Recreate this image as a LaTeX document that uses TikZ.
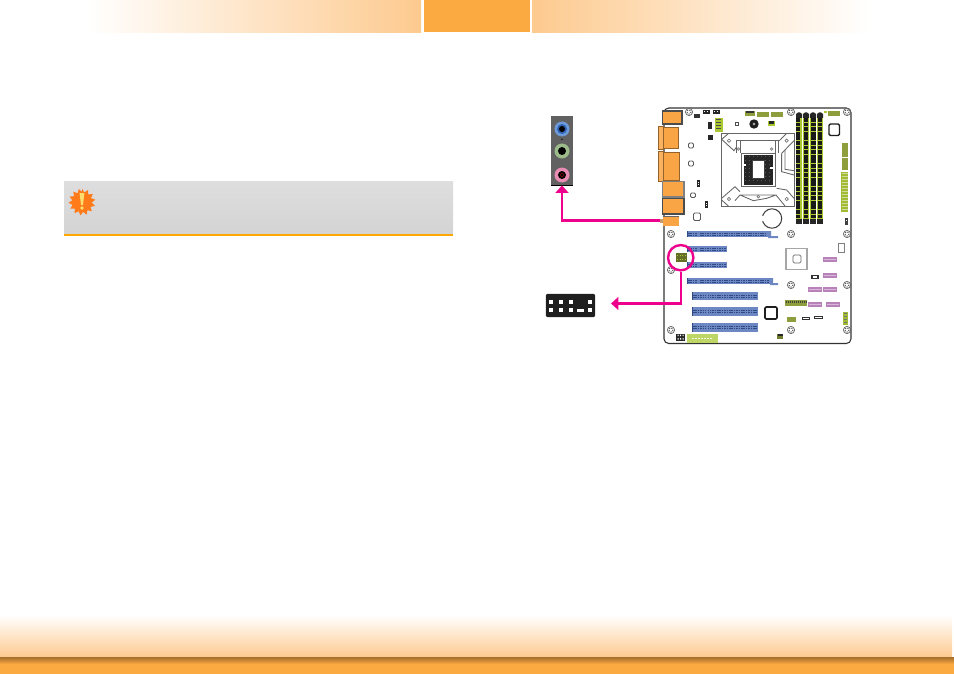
\documentclass[tikz,border=0pt]{standalone}
\usetikzlibrary{arrows.meta,calc}
\definecolor{orA}{HTML}{FBA941}
\definecolor{orB}{HTML}{FDCA8F}
\definecolor{port}{HTML}{F9A445}
\definecolor{lime}{HTML}{A9C832}
\definecolor{olive}{HTML}{8F9E3C}
\definecolor{slotb}{HTML}{6D87C2}
\definecolor{slotd}{HTML}{2F4A86}
\definecolor{sata}{HTML}{A862A8}
\definecolor{mag}{HTML}{EC008C}
\definecolor{jackb}{HTML}{6E9BD8}
\definecolor{jackbi}{HTML}{2E62B4}
\definecolor{jackg}{HTML}{9DBB8A}
\definecolor{jackp}{HTML}{E88CB4}
\tikzset{
 portbox/.style={draw=black!70,line width=.8pt,fill=port},
 portside/.style={draw=port!60!black,line width=.5pt,fill=port!85!white},
 sockline/.style={draw=black!60,line width=.65pt},
 pcb/.style={draw=black!80,line width=.8pt},
 link/.style={draw=mag,line width=1.7pt},
 tip/.style={-{Triangle[length=5.5pt,width=9.5pt]}},
 chip/.style={draw=black!65,line width=.7pt,rounded corners=1pt,fill=white},
}
\newcommand{\screw}[2]{%
 \draw[black!60,line width=.55pt] (#1,#2) circle (3.6);
 \draw[black!65,line width=.8pt,densely dotted] (#1,#2) circle (2);}
\newcommand{\pcislot}[5]{% x1 x2 y1 y2 notch
 \fill[slotb] (#1,#3) rectangle (#2,#4);
 \draw[slotd,line width=.7pt,dash pattern=on 1.2pt off .6pt] (#1+1,{(#3+#4)/2-1}) -- (#2-1,{(#3+#4)/2-1});
 \draw[slotd,line width=.7pt,dash pattern=on 1.2pt off .6pt] (#1+1,{(#3+#4)/2+1}) -- (#2-1,{(#3+#4)/2+1});
 \fill[slotb] (#5,#3) rectangle (#5+2,#4);
 \fill[slotd] (#1,#3) rectangle (#1+1,#4);}
\newcommand{\dimm}[2]{% x, black side offset
 \fill[lime] (#1,114) rectangle (#1+6,223);
 \foreach \yy in {118,122.6,...,220} {\fill[black!90] (#1+#2,\yy) rectangle (#1+#2+4.2,\yy+3.8);}
 \fill[black!85] (#1,114) -- (#1+2,112.5) -- (#1+4,112.5) -- (#1+6,114) -- (#1+6,118) -- (#1,118) -- cycle;
 \fill[black!85] (#1,219) rectangle (#1+6,224);}
\begin{document}
\begin{tikzpicture}[x=0.75pt,y=-0.75pt]
\useasboundingbox (0,0) rectangle (954,674);
% header bars
\shade[left color=white,right color=orB] (85,0) rectangle (421,33);
\fill[orA] (424,0) rectangle (530,32);
\shade[left color=orB,right color=white] (532,0) rectangle (870,33);
% footer
\shade[top color=white,bottom color=orB] (0,615) rectangle (952,657);
\fill[orA] (0,657) rectangle (954,674);
\shade[top color=orA!65!black,bottom color=orA] (0,657) rectangle (954,664);
% note box
\shade[top color=black!13,bottom color=black!17] (64,181) rectangle (453,234);
\fill[orange!70!yellow] (64,234) rectangle (453,236);
\fill[orange!85!red!90!white]
 (82,188.5)
 \foreach \i in {1,...,27} { -- ({82+(mod(\i,2)==1?9.8:13.5)*sin(\i*13.333)},{202-(mod(\i,2)==1?9.8:13.5)*cos(\i*13.333)}) } -- cycle;
\fill[yellow!60!orange!55!white] (79.6,193) -- (84.4,193) -- (83,205) -- (81,205) -- cycle;
\fill[yellow!60!orange!55!white] (82,208) circle (1.9);
% audio panel
\fill[black!62] (551,116) rectangle (573,185);
\draw[black,line width=.8pt] (551,185.4) -- (573,185.4);
\fill[black!90] (562,139) circle (1.2);
\fill[white!80!black] (562,138.4) circle (.4);
\fill[jackb] (562,129) circle (7.5);
\fill[jackbi] (562,129) circle (5);
\fill[black] (562,129) circle (3);
\fill[jackg] (562,151) circle (7.5);
\fill[black] (562,151) circle (4);
\fill[jackp] (562,175) circle (7.5);
\fill[black] (562,175) circle (4);
\fill[red!50!black] (562,175) circle (2);
\fill[black] (562,175) circle (1.3);
\node[inner sep=0pt,minimum width=16.5pt,minimum height=52pt] (audio) at (562,150.5) {};
% header connector
\node[rounded corners=1.5pt,inner sep=0pt,minimum width=37pt,minimum height=17.5pt,fill=black!88] (hd) at (570.5,305.5) {};
\foreach \xx in {551,561,571,590}{\fill[white] (\xx-2.3,299.8) rectangle (\xx+2.3,304.2);}
\foreach \xx in {551,561,571,590}{\fill[white] (\xx-2.3,307.8) rectangle (\xx+2.3,312.2);}
\fill[white] (577,308.5) rectangle (583.5,312.2);
% board
\draw[pcb,rounded corners=3.5pt,fill=white] (664,108) -- (851,108) -- (851,343.5) -- (664,343.5) -- cycle;
\screw{689}{112}\screw{791}{112}\screw{847}{112}
\screw{671}{234}\screw{791}{234}\screw{847}{234}
\screw{671}{270}\screw{791}{285}\screw{847}{285}
\screw{671}{330}\screw{791}{330}\screw{847}{330}
% IO ports
\draw[portbox] (662.5,111) rectangle (682,124);
\draw[portside] (658.5,126) rectangle (663,149);
\draw[port!60!black,line width=.5pt,fill=port] (663,127) rectangle (678,148);
\draw[portside] (658,151) rectangle (663,181);
\draw[port!60!black,line width=.5pt,fill=port] (663,152) rectangle (679,180);
\draw[portbox,draw=black!50] (662.5,181.5) rectangle (684,197);
\draw[portbox] (662.5,198.5) rectangle (684,214);
\fill[port] (662.5,216) rectangle (679,225.5);
\draw[black!60,line width=.4pt] (662.5,216) -- (679,216);
\fill[port!70!black!70!white] (660,219) rectangle (662.5,223);
% small top headers
\fill[black!80] (694,114) rectangle (700,118);
\foreach \xx in {703,713}{\fill[black!85] (\xx,110.5) rectangle (\xx+6.5,114.5); \fill[white] (\xx+1,111.5) rectangle (\xx+2.3,112.5); \fill[white] (\xx+4,111.5) rectangle (\xx+5.3,112.5);}
\fill[lime] (715,118) rectangle (723,132);
\foreach \yy in {119,122,...,130}{\fill[black!70] (716,\yy) rectangle (721,\yy+1);}
\fill[black!85] (708,122) rectangle (712,129);
\fill[black!85] (708,135) rectangle (713,140);
\draw[black!70,line width=.6pt] (735,122) rectangle (738.5,125.5);
\fill[black!88] (754,124) circle (4.7);
\fill[black!30] (754,124) circle (1.3);
\fill[lime] (768,121) rectangle (775,126);
\fill[black!85] (769,121.5) rectangle (774,124);
\fill[olive] (745,111) rectangle (755,116); \fill[black!80] (746,111) rectangle (754,113);
\fill[olive] (757,112) rectangle (769,117);
\fill[olive] (771,112) rectangle (783,117);
\fill[olive] (828,111.5) rectangle (840,116);
\fill[lime] (824,111) rectangle (827,113);
% board chips left
\draw[chip] (688.5,143) rectangle (693.5,148);
\draw[chip] (688.5,161) rectangle (693.5,166);
\draw[chip] (690.5,193) rectangle (695.5,197.5);
\draw[chip] (693.5,213) rectangle (700.5,220.5);
\fill[black!85] (697,180) rectangle (700,187);
\fill[black!85] (705,201) rectangle (708,208);
\foreach \yy in {181.5,184}{\fill[white] (697.7,\yy) rectangle (699.3,\yy+1);}
\foreach \yy in {202.5,205}{\fill[white] (705.7,\yy) rectangle (707.3,\yy+1);}
% CPU socket, traced in crop coordinates (3 units per pixel)
\begin{scope}[shift={(720,130)},x=0.25pt,y=-0.25pt]
 \draw[sockline] (3,10) rectangle (222,230);
 \draw[sockline] (5,28) -- (26,10) (5,28) -- (42,62) -- (50,50);
 \draw[sockline] (180,30) -- (200,10) (222,32) -- (185,70);
 \draw[sockline] (48,30) -- (180,30);
 \draw[sockline] (50,30) -- (50,68) (60,30) -- (60,68) (165,30) -- (165,68) (175,30) -- (175,68);
 \draw[sockline] (185,70) -- (185,125) -- (222,135) (195,60) -- (195,118) -- (222,122);
 \draw[sockline] (5,205) -- (45,170) -- (60,185) (5,210) -- (25,228);
 \draw[sockline] (45,212) -- (60,195) -- (168,195) -- (195,228) (60,195) -- (100,212) -- (140,205) -- (168,195);
 \draw[sockline] (222,205) -- (200,180) -- (170,175);
 \draw[sockline] (65,70) rectangle (165,170);
 \foreach \p in {(27,32),(200,32),(27,207),(200,207)}{\draw[black!55,line width=.5pt] \p circle (5);}
 \foreach \p in {(55,57),(155,57),(115,200)}{\draw[black!55,line width=.5pt] \p circle (4);}
 \fill[black!85] (72,75) rectangle (158,165);
 \foreach \xx in {76,88,...,150}{\foreach \yy in {79,91,...,160}{\fill[white,opacity=.22] (\xx,\yy) rectangle (\xx+3,\yy+3);}}
 \fill[white] (70,102) rectangle (78,108);
 \fill[white] (150,112) rectangle (160,116);
 \fill[white] (98,92) rectangle (132,145);
 \draw[black!75,line width=.5pt] (98,92) rectangle (132,145);
\end{scope}
% battery
\draw[black!75,line width=.8pt,fill=white] (772,218.5) circle (9.7);
\fill[white] (760,216) rectangle (763.5,221);
% DIMMs
\dimm{796}{0}
\dimm{803}{1}
\dimm{810}{1.4}
\dimm{817}{1}
% right-top chip
\draw[black!88,line width=1.1pt,rounded corners=1pt] (829,124) rectangle (839.5,135.5);
% right headers
\fill[olive] (842,143) rectangle (848,157);
\fill[olive] (842,158) rectangle (848,170);
\fill[lime!70!olive] (841,172) rectangle (848,212);
\foreach \yy in {173,176,...,210}{\fill[white,opacity=.5] (841.5,\yy) rectangle (847.5,\yy+.8);}
\fill[black!75] (845,218) rectangle (848,224.5);
\fill[white] (845.8,219.5) rectangle (847.2,221);
% PCI slots
\pcislot{687}{768}{231}{237}{697}
\fill[slotb] (768,231) rectangle (771,238) (771,236) rectangle (778,238);
\pcislot{687}{727}{246}{252}{697}
\pcislot{687}{727}{262}{268}{697}
\pcislot{687}{770}{278}{284}{697}
\fill[slotb] (770,278) rectangle (773,285) (773,283) rectangle (778,285);
\pcislot{692}{758}{292}{300}{706}
\pcislot{692}{758}{307}{316}{706}
\pcislot{692}{758}{323}{332}{706}
% PCH
\draw[black!35,line width=1pt,fill=white] (786,248.5) rectangle (807,269.5);
\draw[black!60,line width=.6pt,rounded corners=1pt] (793,255) rectangle (801,263);
% SATA
\foreach \xa/\ya in {823/257,823/273,808/287,823/287,808/302,826/302}{
 \fill[sata!80!white] (\xa,\ya) rectangle (\xa+14,\ya+5);
 \fill[sata!45!white] (\xa+1,\ya+2) rectangle (\xa+13,\ya+3);}
% small items
\fill[black!80] (811,275) rectangle (818.5,278.5);
\fill[white] (812.5,276) rectangle (817,277.5);
\draw[black!80,line width=.6pt] (802,317) rectangle (809,319.5);
\draw[black!80,line width=.6pt] (814,316) rectangle (822,318.5);
\fill[olive] (785,300) rectangle (807,306);
\foreach \xx in {786,788,...,806}{\fill[black!75] (\xx,300.5) rectangle (\xx+1,302.5);}
\fill[olive] (787,317) rectangle (796,322);
\fill[lime!70!olive] (843,312) rectangle (848,325);
\foreach \yy in {313,316,...,324}{\fill[black!55] (844,\yy) rectangle (847,\yy+1);}
\draw[black!88,line width=1.2pt,rounded corners=1pt,fill=white] (765,307) rectangle (777,319);
\draw[black!50,line width=.6pt] (838,243) rectangle (844.5,252);
\fill[olive!80!black] (777,334) rectangle (783,339);
\fill[black!85] (777.5,334) rectangle (782.5,336);
% bottom left
\fill[black!85] (676,333.5) rectangle (685,340.5);
\foreach \xx in {677.5,680,682.5}{\fill[white] (\xx,334.5) rectangle (\xx+1.2,336) (\xx,338) rectangle (\xx+1.2,339.5);}
\fill[lime!75!white] (687,333.5) rectangle (718,342.5);
\foreach \xx in {692,695,...,712}{\fill[white,opacity=.85] (\xx,337.5) rectangle (\xx+1.5,339);}
% front audio
\fill[olive!70!black] (676,253) rectangle (687,262);
\foreach \xx in {677,679.5,682,684.5}{\foreach \yy in {255,258.5}{\fill[lime] (\xx,\yy) rectangle (\xx+1.2,\yy+1.2);}}
% free connector ends
\coordinate (lineout) at (660,220.5);
\coordinate (hdtip) at (611,303.5);
% connectors
\node[draw=mag,line width=1.8pt,circle,minimum size=19pt,inner sep=0pt] (ring) at (680.7,257.7) {};
\draw[link,tip] (lineout) -| (audio.south);
\draw[link,tip] (ring.south) |- (hdtip);
\end{tikzpicture}
\end{document}
